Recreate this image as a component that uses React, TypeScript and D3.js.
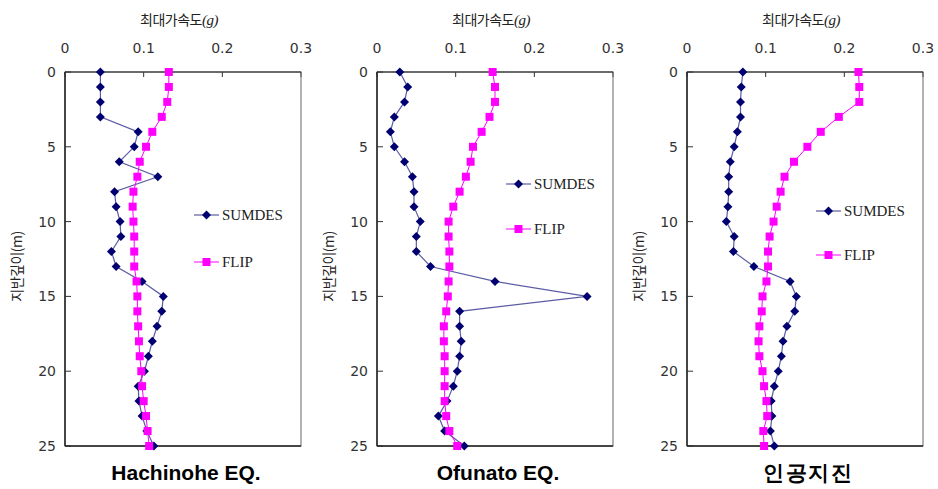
import React from "react";
import * as d3 from "d3";

const depths = d3.range(0, 26);
const xTicks = [0, 0.1, 0.2, 0.3];
const yTicks = [0, 5, 10, 15, 20, 25];
const seriesNames = ["SUMDES", "FLIP"];
const panelTitles = ["Hachinohe EQ.", "Ofunato EQ.", "인공지진"];
const xAxisTitle = "최대가속도";
const xAxisUnit = "(g)";
const yAxisTitle = "지반깊이(m)";

const hachinoheSumdes = [0.045, 0.045, 0.045, 0.045, 0.093, 0.088, 0.069, 0.118, 0.063, 0.065, 0.07, 0.071, 0.059, 0.065, 0.098, 0.125, 0.123, 0.117, 0.111, 0.106, 0.101, 0.093, 0.094, 0.098, 0.104, 0.113];
const hachinoheFlip = [0.132, 0.132, 0.13, 0.123, 0.111, 0.103, 0.095, 0.092, 0.087, 0.086, 0.087, 0.088, 0.088, 0.088, 0.091, 0.092, 0.092, 0.093, 0.094, 0.095, 0.097, 0.098, 0.1, 0.103, 0.105, 0.107];
const ofunatoSumdes = [0.029, 0.039, 0.035, 0.022, 0.017, 0.022, 0.035, 0.045, 0.047, 0.047, 0.055, 0.05, 0.05, 0.068, 0.15, 0.267, 0.105, 0.105, 0.107, 0.105, 0.102, 0.097, 0.089, 0.078, 0.086, 0.111];
const ofunatoFlip = [0.147, 0.15, 0.15, 0.143, 0.133, 0.122, 0.119, 0.113, 0.105, 0.097, 0.091, 0.091, 0.092, 0.092, 0.091, 0.09, 0.088, 0.085, 0.085, 0.086, 0.086, 0.086, 0.086, 0.088, 0.092, 0.102];
const artificialSumdes = [0.071, 0.069, 0.068, 0.068, 0.064, 0.06, 0.055, 0.053, 0.053, 0.052, 0.05, 0.06, 0.059, 0.085, 0.131, 0.139, 0.137, 0.127, 0.122, 0.12, 0.116, 0.111, 0.107, 0.108, 0.106, 0.111];
const artificialFlip = [0.218, 0.219, 0.219, 0.193, 0.17, 0.153, 0.136, 0.124, 0.119, 0.114, 0.11, 0.105, 0.103, 0.103, 0.101, 0.096, 0.095, 0.092, 0.091, 0.092, 0.096, 0.098, 0.101, 0.102, 0.097, 0.098];

const panelSumdes = [hachinoheSumdes, ofunatoSumdes, artificialSumdes];
const panelFlip = [hachinoheFlip, ofunatoFlip, artificialFlip];

const panelLefts = [65, 377, 687];
const plotW = 236;
const top = 72;
const bottom = 446;
const legendY = [[215, 262], [184, 229], [211, 255]];

const navy = "#000070";
const navyLine = "#5c5ca6";
const magenta = "#ff00ff";

function Diamond({ x, y }: { x: number; y: number }) {
  const r = 4.5;
  return <path d={`M${x},${y - r}L${x + r},${y}L${x},${y + r}L${x - r},${y}Z`} fill={navy} />;
}
function Square({ x, y }: { x: number; y: number }) {
  const s = 8;
  return <rect x={x - s / 2} y={y - s / 2} width={s} height={s} fill={magenta} />;
}

function Panel({ idx }: { idx: number }) {
  const left = panelLefts[idx];
  const x = d3.scaleLinear().domain([0, 0.3]).range([left, left + plotW]);
  const y = d3.scaleLinear().domain([0, 25]).range([top, bottom]);
  const s1 = panelSumdes[idx];
  const s2 = panelFlip[idx];
  const line = d3.line<number>().x((v) => x(v)).y((_, i) => y(depths[i]));
  const cx = left + plotW / 2;
  const lx = left + 129;
  const [ly1, ly2] = legendY[idx];
  return (
    <g>
      <text x={cx - 4} y={25} textAnchor="middle" fontFamily="'Noto Sans CJK KR'" fontSize={14} fill="#222" letterSpacing={-0.5}>
        {xAxisTitle}<tspan fontFamily="'Liberation Serif'" fontStyle="italic" fontSize={15}>{xAxisUnit}</tspan>
      </text>
      {xTicks.map((t) => (
        <g key={t}>
          <text x={x(t)} y={53} textAnchor="middle" fontFamily="'DejaVu Sans'" fontSize={14} fill="#333">{t === 0 ? "0" : String(t)}</text>
          <line x1={x(t)} x2={x(t)} y1={top} y2={top + 5} stroke="#333" />
        </g>
      ))}
      {yTicks.map((t) => (
        <g key={t}>
          <text x={left - 9} y={y(t) + 5} textAnchor="end" fontFamily="'DejaVu Sans'" fontSize={14} fill="#333">{t}</text>
          <line x1={left} x2={left + 6} y1={y(t)} y2={y(t)} stroke="#333" />
        </g>
      ))}
      <text transform={`translate(${left - 43},${y(13)}) rotate(-90)`} textAnchor="middle" fontFamily="'Noto Sans CJK KR'" fontSize={14} fill="#222" letterSpacing={-0.5}>{yAxisTitle}</text>
      <rect x={left} y={top} width={plotW} height={bottom - top} fill="none" stroke="#666" strokeWidth={1} />
      <line x1={left} x2={left + plotW} y1={top} y2={top} stroke="#222" />
      <line x1={left} x2={left + plotW} y1={bottom} y2={bottom} stroke="#222" strokeWidth={1.5} />
      <line x1={left} x2={left} y1={top} y2={bottom} stroke="#222" strokeWidth={1.5} />
      <path d={line(s1) || ""} fill="none" stroke={navyLine} strokeWidth={1.2} />
      {s1.map((v, i) => <Diamond key={i} x={x(v)} y={y(depths[i])} />)}
      <path d={line(s2) || ""} fill="none" stroke={magenta} strokeWidth={1} />
      {s2.map((v, i) => <Square key={i} x={x(v)} y={y(depths[i])} />)}
      <line x1={lx} x2={lx + 25} y1={ly1} y2={ly1} stroke={navyLine} strokeWidth={1.2} />
      <Diamond x={lx + 12.5} y={ly1} />
      <text x={lx + 28} y={ly1 + 5} fontFamily="'Liberation Serif'" fontSize={15} fill="#222">{seriesNames[0]}</text>
      <line x1={lx} x2={lx + 25} y1={ly2} y2={ly2} stroke={magenta} />
      <Square x={lx + 12.5} y={ly2} />
      <text x={lx + 28} y={ly2 + 5} fontFamily="'Liberation Serif'" fontSize={15} fill="#222">{seriesNames[1]}</text>
      <text x={cx + 3} y={480} textAnchor="middle" fontFamily="'Liberation Sans'" fontWeight="bold" fontSize={21} fill="#000" letterSpacing={idx === 2 ? 1.5 : 0}>{panelTitles[idx]}</text>
    </g>
  );
}

export default function App() {
  return (
    <svg width={938} height={489} style={{ position: "absolute", left: 0, top: 0, background: "#fff" }}>
      <rect width={938} height={489} fill="#fff" />
      {[0, 1, 2].map((i) => <Panel key={i} idx={i} />)}
    </svg>
  );
}
